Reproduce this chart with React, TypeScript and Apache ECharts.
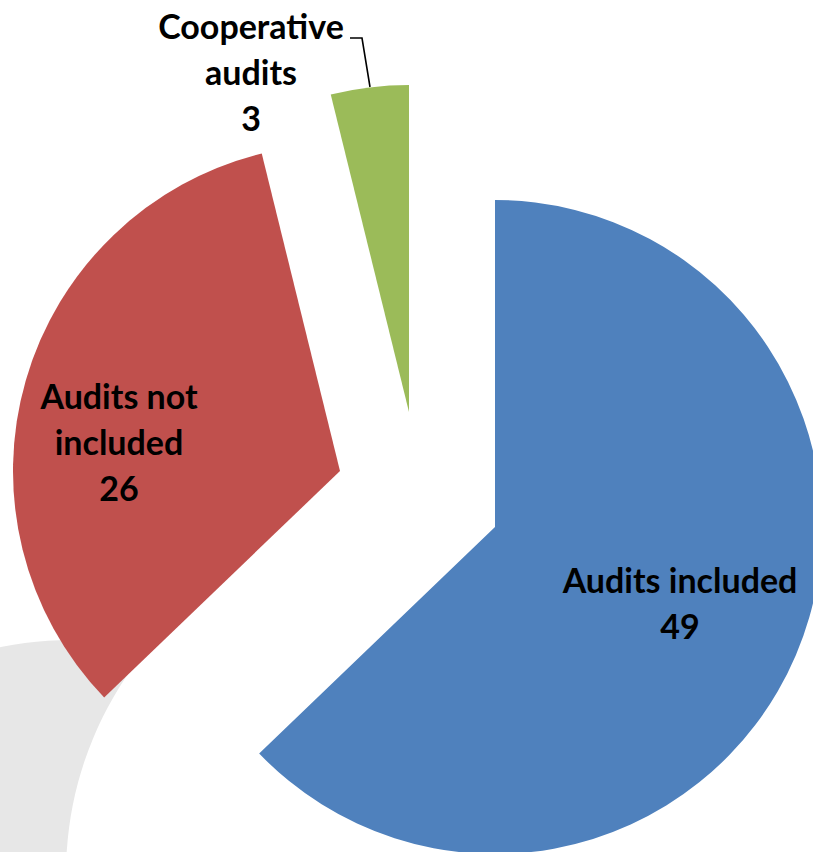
import React, { useEffect, useRef } from "react";
import * as echarts from "echarts";

const categories = ["Audits included", "Audits not included", "Cooperative audits"];
const labelTexts = ["Audits included", "Audits not\nincluded", "Cooperative\naudits"];
const values = [49, 26, 3];
const colors = ["#4F81BD", "#C0504D", "#9BBB59"];

// exploded slice centres (px), label block centres (px)
const sliceCenters = [[495, 527], [340, 471], [409, 412]];
const labelCenters = [[680, 602], [119, 441], [251, 71]];

export default function App() {
  const ref = useRef<HTMLDivElement>(null);
  useEffect(() => {
    if (!ref.current) return;
    const chart = echarts.init(ref.current, undefined, { renderer: "svg" });
    const series = values.map((_, k) => ({
      type: "pie",
      silent: true,
      center: sliceCenters[k],
      radius: 327,
      startAngle: 90,
      clockwise: true,
      avoidLabelOverlap: false,
      emphasis: { disabled: true },
      z: 3,
      data: values.map((v, i) => ({
        value: v,
        name: categories[i],
        itemStyle: i === k ? { color: colors[i] } : { opacity: 0 },
        label: { show: i === k },
        labelLine: { show: i === k && k === 2 },
      })),
      label: {
        position: k === 2 ? "outside" : "inside",
        formatter: (p: any) => labelTexts[p.dataIndex] + "\n" + p.value,
        fontFamily: "Lato",
        fontWeight: "bold",
        fontSize: 34,
        lineHeight: 46,
        color: "#000",
        align: "center",
      },
      labelLine: {
        lineStyle: { color: "#000", width: 1.6 },
      },
      labelLayout: (p: any) => {
        if (p.dataIndex !== k) return {};
        const r: any = {
          x: labelCenters[k][0],
          y: labelCenters[k][1],
          align: "center",
          verticalAlign: "middle",
        };
        if (k === 2) {
          r.labelLinePoints = [
            [370, 87],
            [362, 38],
            [350, 38],
          ];
        }
        return r;
      },
    }));
    chart.setOption({
      animation: false,
      backgroundColor: "#fff",
      graphic: [
        { type: "circle", z: 0, shape: { cx: 71, cy: 993, r: 353 }, style: { fill: "#E7E7E7" } },
        { type: "circle", z: 1, shape: { cx: 419, cy: 874, r: 353 }, style: { fill: "#FFFFFF" } },
      ],
      series,
    });
    return () => chart.dispose();
  }, []);
  return (
    <div
      ref={ref}
      style={{ position: "fixed", left: 0, top: 0, width: 813, height: 852 }}
    />
  );
}
